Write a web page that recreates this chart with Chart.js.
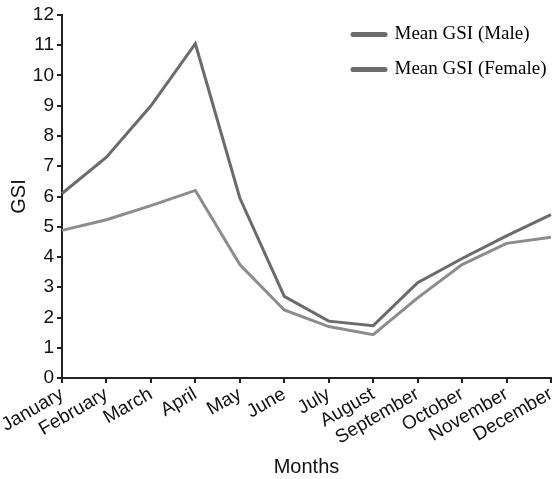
<!DOCTYPE html>
<html>
<head>
<meta charset="utf-8">
<script src="https://cdn.jsdelivr.net/npm/chart.js@4/dist/chart.umd.min.js"></script>
<style>
    html, body { margin: 0; padding: 0; background: #fff; }
    #wrap { width: 556px; height: 479px; }
</style>
</head>
<body>
<div id="wrap"><canvas id="gsi_chart"></canvas></div>
<script>
    // data
    var months = ['January', 'February', 'March', 'April', 'May', 'June', 'July',
        'August', 'September', 'October', 'November', 'December'];
    var gsiMale = [6.1, 7.3, 9.0, 11.05, 5.95, 2.7, 1.88, 1.73, 3.15, 3.95, 4.7, 5.4];
    var gsiFemale = [4.88, 5.23, 5.7, 6.2, 3.75, 2.25, 1.7, 1.43, 2.65, 3.75, 4.45, 4.65];
    var yTicks = [0, 1, 2, 3, 4, 5, 6, 7, 8, 9, 10, 11, 12];

    var darkGrey = '#6b6b6b';
    var lightGrey = '#8c8c8c';
    var axisColor = '#222';
    var sans = "'Liberation Sans', Arial, sans-serif";
    var serif = "'Liberation Serif', 'Times New Roman', serif";

    // legend sits inside the plot, top right (legend clips to its own box)
    var legendSpot = {
        id: 'legendSpot',
        afterLayout: function(chart) {
            var lg = chart.legend;
            lg.left = 337;
            lg.top = 9;
            lg.right = 556;
            lg.bottom = 110;
            lg.width = lg.right - lg.left;
            lg.height = lg.bottom - lg.top;
        }
    };

    var ctx = document.getElementById('gsi_chart').getContext('2d');
    new Chart(ctx, {
        type: 'line',
        data: {
            labels: months,
            datasets: [{
                label: 'Mean GSI (Male)',
                data: gsiMale,
                borderColor: darkGrey,
                borderWidth: 3,
                pointRadius: 0,
                tension: 0,
                fill: false
            }, {
                label: 'Mean GSI (Female)',
                data: gsiFemale,
                borderColor: lightGrey,
                borderWidth: 3,
                pointRadius: 0,
                tension: 0,
                fill: false
            }]
        },
        plugins: [legendSpot],
        options: {
            responsive: true,
            maintainAspectRatio: false,
            animation: false,
            layout: { padding: { left: 0, right: 5, top: 15, bottom: 0 } },
            plugins: {
                tooltip: { enabled: false },
                legend: {
                    position: 'chartArea',
                    align: 'start',
                    labels: {
                        font: { family: serif, size: 19 },
                        color: '#111',
                        usePointStyle: true,
                        pointStyleWidth: 32,
                        boxHeight: 5,
                        padding: 16,
                        generateLabels: function(chart) {
                            return chart.data.datasets.map(function(ds, i) {
                                return {
                                    text: ds.label,
                                    pointStyle: 'line',
                                    strokeStyle: darkGrey,
                                    fillStyle: darkGrey,
                                    lineWidth: 5,
                                    lineCap: 'round',
                                    datasetIndex: i
                                };
                            });
                        }
                    }
                }
            },
            scales: {
                x: {
                    offset: false,
                    grid: { drawOnChartArea: false, drawTicks: true, tickLength: 5, color: axisColor, lineWidth: 2 },
                    border: { display: true, color: axisColor, width: 2 },
                    ticks: {
                        font: { family: sans, size: 19 },
                        color: '#111',
                        minRotation: 30,
                        maxRotation: 30,
                        autoSkip: false,
                        padding: 0
                    },
                    title: {
                        display: true,
                        text: 'Months',
                        font: { family: sans, size: 20 },
                        color: '#111',
                        padding: { top: 4, bottom: 0 }
                    },
                    afterFit: function(scale) {
                        scale.height = 101;
                        scale.paddingRight = 0;
                    }
                },
                y: {
                    min: 0,
                    max: 12,
                    afterBuildTicks: function(scale) {
                        scale.ticks = yTicks.map(function(v) { return { value: v }; });
                    },
                    grid: { drawOnChartArea: false, drawTicks: true, tickLength: 5, color: axisColor, lineWidth: 2 },
                    border: { display: true, color: axisColor, width: 2 },
                    ticks: {
                        font: { family: sans, size: 19 },
                        color: '#111',
                        padding: 3
                    },
                    title: {
                        display: true,
                        text: 'GSI',
                        font: { family: sans, size: 20 },
                        color: '#111',
                        padding: { top: 7, bottom: 0 }
                    },
                    afterFit: function(scale) { scale.width = 62; }
                }
            }
        }
    });
</script>
</body>
</html>
